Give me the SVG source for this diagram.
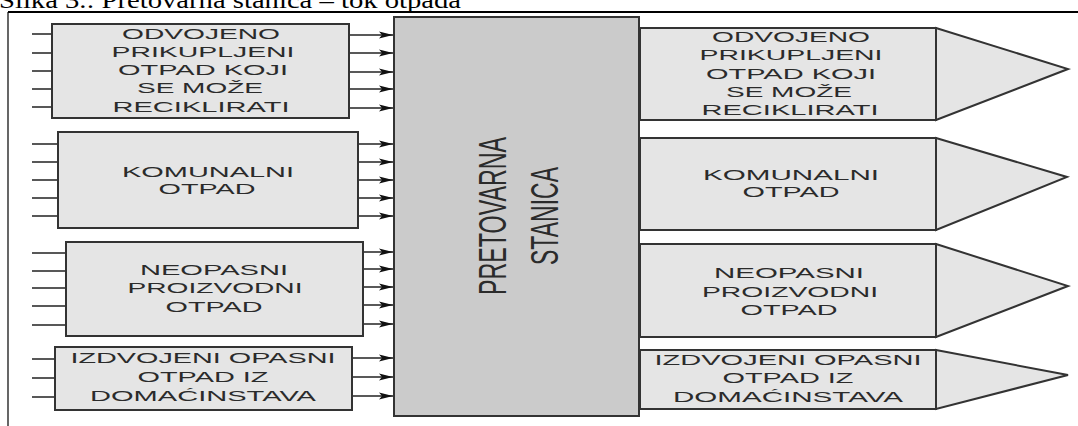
<svg xmlns="http://www.w3.org/2000/svg" width="1078" height="426" viewBox="0 0 1078 426">
<style>
.box{fill:#e5e5e5;stroke:#333;stroke-width:2}
.central{fill:#cbcbcb;stroke:#333;stroke-width:2}
.lbl{font-family:"Liberation Sans",Arial,sans-serif;font-size:15.5px;fill:#2b2b2b;text-anchor:middle}
.big{font-family:"Liberation Sans",Arial,sans-serif;font-size:39px;fill:#2b2b2b;text-anchor:middle}
.in{stroke:#222;stroke-width:1.5;fill:none}
.out{stroke:#222;stroke-width:1.5;fill:none;marker-end:url(#ah)}
</style>
<defs>
<marker id="ah" markerUnits="userSpaceOnUse" markerWidth="16" markerHeight="10" refX="14" refY="5" orient="auto">
<path d="M0,1.5 L14,5 L0,8.5 L3,5 z" fill="#111"/>
</marker>
</defs>
<rect width="1078" height="426" fill="#fff"/>
<text x="-1" y="8" font-family="'Liberation Serif','Times New Roman',serif" font-size="24" fill="#000" textLength="462" lengthAdjust="spacingAndGlyphs">Slika 3.: Pretovarna stanica – tok otpada</text>
<line x1="8" y1="12" x2="1078" y2="12" stroke="#000" stroke-width="2"/>
<line x1="8" y1="12" x2="8" y2="426" stroke="#000" stroke-width="1.2"/>

<g id="connectors">
<path class="in" d="M32,34H52M32,53H52M32,71H52M32,89H52M32,107H52"/>
<path class="in" d="M32,144H58M32,162H58M32,180H58M32,198H58M32,216H58"/>
<path class="in" d="M32,253H66M32,271H66M32,288H66M32,306H66M32,325H66"/>
<path class="in" d="M32,359H55M32,378H55M32,397H55"/>
<line class="out" x1="349" y1="35" x2="393" y2="35"/>
<line class="out" x1="349" y1="53" x2="393" y2="53"/>
<line class="out" x1="349" y1="72" x2="393" y2="72"/>
<line class="out" x1="349" y1="89" x2="393" y2="89"/>
<line class="out" x1="349" y1="108" x2="393" y2="108"/>
<line class="out" x1="358" y1="144" x2="393" y2="144"/>
<line class="out" x1="358" y1="162" x2="393" y2="162"/>
<line class="out" x1="358" y1="180" x2="393" y2="180"/>
<line class="out" x1="358" y1="198" x2="393" y2="198"/>
<line class="out" x1="358" y1="216" x2="393" y2="216"/>
<line class="out" x1="363" y1="252" x2="393" y2="252"/>
<line class="out" x1="363" y1="269" x2="393" y2="269"/>
<line class="out" x1="363" y1="287" x2="393" y2="287"/>
<line class="out" x1="363" y1="305" x2="393" y2="305"/>
<line class="out" x1="363" y1="324" x2="393" y2="324"/>
<line class="out" x1="352" y1="358" x2="393" y2="358"/>
<line class="out" x1="352" y1="377" x2="393" y2="377"/>
<line class="out" x1="352" y1="396" x2="393" y2="396"/>
</g>

<g id="in1">
<rect class="box" x="52" y="24" width="297" height="94"/>
<text class="lbl" x="201" y="39" textLength="158" lengthAdjust="spacingAndGlyphs">ODVOJENO</text>
<text class="lbl" x="203" y="57" textLength="183" lengthAdjust="spacingAndGlyphs">PRIKUPLJENI</text>
<text class="lbl" x="203" y="75" textLength="170" lengthAdjust="spacingAndGlyphs">OTPAD KOJI</text>
<text class="lbl" x="200" y="93" textLength="126" lengthAdjust="spacingAndGlyphs">SE MOŽE</text>
<text class="lbl" x="201" y="112" textLength="177" lengthAdjust="spacingAndGlyphs">RECIKLIRATI</text>
</g>
<g id="in2">
<rect class="box" x="58" y="132" width="300" height="96"/>
<text class="lbl" x="208" y="177" textLength="172" lengthAdjust="spacingAndGlyphs">KOMUNALNI</text>
<text class="lbl" x="207" y="194" textLength="97" lengthAdjust="spacingAndGlyphs">OTPAD</text>
</g>
<g id="in3">
<rect class="box" x="66" y="242" width="297" height="94"/>
<text class="lbl" x="214" y="275" textLength="148" lengthAdjust="spacingAndGlyphs">NEOPASNI</text>
<text class="lbl" x="215" y="293" textLength="175" lengthAdjust="spacingAndGlyphs">PROIZVODNI</text>
<text class="lbl" x="214" y="312" textLength="97" lengthAdjust="spacingAndGlyphs">OTPAD</text>
</g>
<g id="in4">
<rect class="box" x="55" y="347" width="297" height="63"/>
<text class="lbl" x="203" y="363" textLength="265" lengthAdjust="spacingAndGlyphs">IZDVOJENI OPASNI</text>
<text class="lbl" x="203" y="382" textLength="131" lengthAdjust="spacingAndGlyphs">OTPAD IZ</text>
<text class="lbl" x="203" y="401" textLength="226" lengthAdjust="spacingAndGlyphs">DOMAĆINSTAVA</text>
</g>

<g id="station">
<rect class="central" x="394" y="17" width="245" height="399"/>
<text class="big" transform="translate(506,216) rotate(-90)" textLength="158" lengthAdjust="spacingAndGlyphs">PRETOVARNA</text>
<text class="big" transform="translate(558,216) rotate(-90)" textLength="98" lengthAdjust="spacingAndGlyphs">STANICA</text>
</g>

<g id="out1">
<polygon class="box" points="936,28 1068,69 936,120"/>
<rect class="box" x="640" y="28" width="296" height="92"/>
<text class="lbl" x="791" y="42" textLength="158" lengthAdjust="spacingAndGlyphs">ODVOJENO</text>
<text class="lbl" x="791" y="60" textLength="183" lengthAdjust="spacingAndGlyphs">PRIKUPLJENI</text>
<text class="lbl" x="791" y="79" textLength="170" lengthAdjust="spacingAndGlyphs">OTPAD KOJI</text>
<text class="lbl" x="789" y="97" textLength="126" lengthAdjust="spacingAndGlyphs">SE MOŽE</text>
<text class="lbl" x="790" y="115" textLength="177" lengthAdjust="spacingAndGlyphs">RECIKLIRATI</text>
</g>
<g id="out2">
<polygon class="box" points="936,138 1067,177 936,230"/>
<rect class="box" x="640" y="138" width="296" height="92"/>
<text class="lbl" x="791" y="180" textLength="176" lengthAdjust="spacingAndGlyphs">KOMUNALNI</text>
<text class="lbl" x="791" y="197" textLength="97" lengthAdjust="spacingAndGlyphs">OTPAD</text>
</g>
<g id="out3">
<polygon class="box" points="936,244 1068,286 936,337"/>
<rect class="box" x="640" y="244" width="296" height="93"/>
<text class="lbl" x="789" y="278" textLength="150" lengthAdjust="spacingAndGlyphs">NEOPASNI</text>
<text class="lbl" x="790" y="297" textLength="176" lengthAdjust="spacingAndGlyphs">PROIZVODNI</text>
<text class="lbl" x="789" y="315" textLength="97" lengthAdjust="spacingAndGlyphs">OTPAD</text>
</g>
<g id="out4">
<polygon class="box" points="936,350 1068,375 936,409"/>
<rect class="box" x="640" y="350" width="296" height="59"/>
<text class="lbl" x="788" y="365" textLength="267" lengthAdjust="spacingAndGlyphs">IZDVOJENI OPASNI</text>
<text class="lbl" x="788" y="383" textLength="131" lengthAdjust="spacingAndGlyphs">OTPAD IZ</text>
<text class="lbl" x="788" y="402" textLength="230" lengthAdjust="spacingAndGlyphs">DOMAĆINSTAVA</text>
</g>
</svg>
